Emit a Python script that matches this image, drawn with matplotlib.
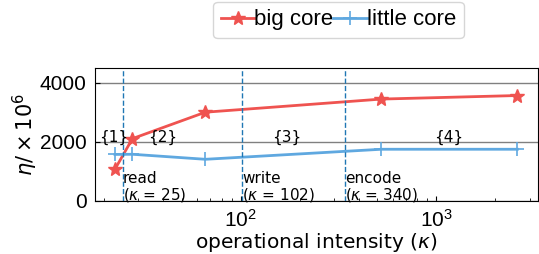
import numpy as np
import matplotlib
matplotlib.use("Agg")
import matplotlib.pyplot as plt

# 數據
kappa_big = [22.8, 28, 66, 524, 2590]
eta_big = [1075, 2110, 3005, 3450, 3570]
kappa_little = [22.8, 28, 66, 524, 2590]
eta_little = [1575, 1580, 1410, 1750, 1750]

phase_kappa = [25, 102, 340]
phase_names = ["read", "write", "encode"]
region_labels = ["{1}", "{2}", "{3}", "{4}"]
region_x = [22.5, 40, 172, 1150]

plt.rcParams['font.family'] = ['Liberation Sans', 'DejaVu Sans']
dv = ['DejaVu Sans']

fig, ax = plt.subplots(figsize=(5.39, 2.54), dpi=100)
fig.subplots_adjust(left=0.176, right=0.998, bottom=0.209, top=0.732)

ax.plot(kappa_big, eta_big, color="#ef5350", marker="*", markersize=10,
        linewidth=2, label="big core")
ax.plot(kappa_little, eta_little, color="#5fa8e0", marker="+", markersize=10,
        markeredgewidth=1.2, linewidth=2, label="little core")

for k, name in zip(phase_kappa, phase_names):
    ax.axvline(k, color="#1f77b4", linestyle="--", linewidth=1)
    ax.text(k, 1020, f"{name}\n($\\kappa$ = {k})", fontsize=11, family=dv,
            ha="left", va="top", linespacing=1.0)

for x, lab in zip(region_x, region_labels):
    ax.text(x, 2150, lab, fontsize=11, family=dv, ha="center", va="center")

ax.set_xscale("log")
ax.set_xlim(18, 3300)
ax.set_ylim(0, 4500)
ax.set_yticks([0, 2000, 4000])
ax.yaxis.grid(True, color="gray", linewidth=1)
ax.set_axisbelow(True)
ax.tick_params(axis="both", which="both", direction="in", labelsize=15)
ax.tick_params(axis="x", pad=6)
ax.tick_params(axis="y", pad=6)
ax.set_xlabel("operational intensity ($\\kappa$)", fontsize=14.5, family=dv,
              labelpad=0)
ax.set_ylabel("$\\eta / \\times 10^6$", fontsize=15, labelpad=0)

ax.legend(loc="lower center", bbox_to_anchor=(0.55, 1.225), ncol=2,
          fontsize=16, handlelength=1.5, columnspacing=0, handletextpad=0,
          borderpad=0.35, borderaxespad=0)

fig.savefig("out.png", dpi=100)
